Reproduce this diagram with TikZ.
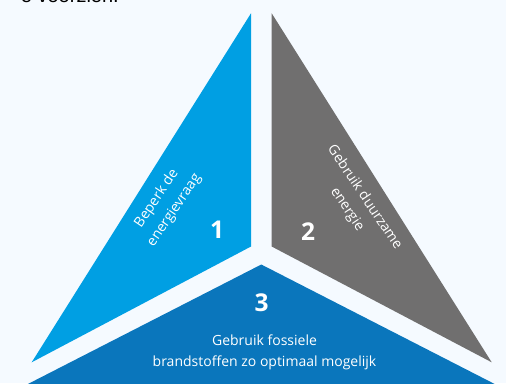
\documentclass[tikz,border=0pt]{standalone}
\usepackage{fontspec}
\setmainfont{Open Sans}
\newfontfamily\topfont{Liberation Sans}
\definecolor{bgc}{HTML}{F5FAFF}
\definecolor{blueA}{HTML}{009FE3}
\definecolor{grayB}{HTML}{706F6F}
\definecolor{blueC}{HTML}{0A76BC}
\tikzset{
  lbl/.style={text=white, align=center, inner sep=0pt, font=\fontsize{14}{21}\selectfont},
  num/.style={text=white, inner sep=0pt, font=\fontsize{24.5}{24.5}\selectfont\bfseries},
}
\begin{document}
\begin{tikzpicture}[x=1pt,y=-1pt]
\useasboundingbox (0,0) rectangle (506,383);
\fill[bgc] (0,0) rectangle (506,383);
\clip (0,0) rectangle (506,383);
\node[anchor=base east, inner sep=0pt, font=\topfont\fontsize{20}{20}\selectfont] (top) at (119,2.6) {e voorzien.};
\fill[blueA] (251,13.3) -- (251,246.5) -- (31.7,362.3) -- cycle;
\fill[grayB] (271.7,13.3) -- (271.7,246.5) -- (491.7,362.3) -- cycle;
\fill[blueC] (261.3,264.5) -- (0,398.3) -- (522.6,398.3) -- cycle;
\node[lbl, rotate=56] (t1) at (165.5,204.5) {Beperk de\\energievraag};
\node[lbl, rotate=-56] (t2) at (355.8,203.4) {Gebruik duurzame\\energie};
\node[lbl] (t3) at (264.5,352) {Gebruik fossiele\\brandstoffen zo optimaal mogelijk};
\node[num] (n1) at (217,230) {1};
\node[num] (n2) at (308,232) {2};
\node[num] (n3) at (261.7,303.2) {3};
\end{tikzpicture}
\end{document}
